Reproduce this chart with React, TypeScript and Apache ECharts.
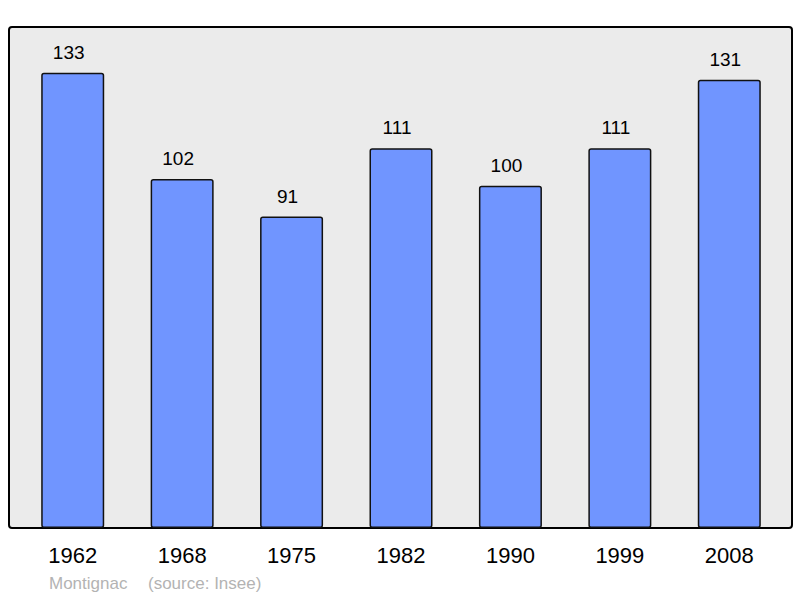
import React, { useEffect, useRef } from "react";
import * as echarts from "echarts";

const years = ["1962", "1968", "1975", "1982", "1990", "1999", "2008"];
const population = [133, 102, 91, 111, 100, 111, 131];
const footerName = "Montignac";
const footerSource = "(source: Insee)";

export default function App() {
  const ref = useRef<HTMLDivElement>(null);
  useEffect(() => {
    const chart = echarts.init(ref.current!, undefined, { renderer: "svg" });
    chart.setOption({
      animation: false,
      textStyle: { fontFamily: "Liberation Sans, Arial, sans-serif" },
      graphic: [
        {
          type: "rect",
          z: 0,
          shape: { x: 9, y: 27, width: 783, height: 501, r: 3 },
          style: { fill: "#ebebeb", stroke: "#000", lineWidth: 2 },
        },
        {
          type: "text",
          x: 49,
          y: 575,
          style: { text: footerName, fill: "#b3b3b3", font: "17px Liberation Sans, Arial, sans-serif" },
        },
        {
          type: "text",
          x: 148,
          y: 575,
          style: { text: footerSource, fill: "#b3b3b3", font: "17px Liberation Sans, Arial, sans-serif" },
        },
      ],
      grid: { left: 18, right: 16, top: 27, bottom: 70 },
      xAxis: {
        type: "category",
        data: years,
        axisLine: { show: false },
        axisTick: { show: false },
        axisLabel: { color: "#000", fontSize: 22, margin: 16 },
      },
      yAxis: {
        type: "value",
        min: 0,
        max: 146.4,
        show: false,
        splitLine: { show: false },
      },
      series: [
        {
          type: "bar",
          data: population,
          barWidth: 63,
          z: 5,
          itemStyle: { color: "#7095ff", borderColor: "#111", borderWidth: 1.5, borderRadius: 2 },
          label: { show: true, position: "top", distance: 11, offset: [-4, 0], color: "#000", fontSize: 19 },
        },
      ],
    });
    return () => chart.dispose();
  }, []);
  return <div ref={ref} style={{ width: 800, height: 598, position: "absolute", left: 0, top: 0 }} />;
}
